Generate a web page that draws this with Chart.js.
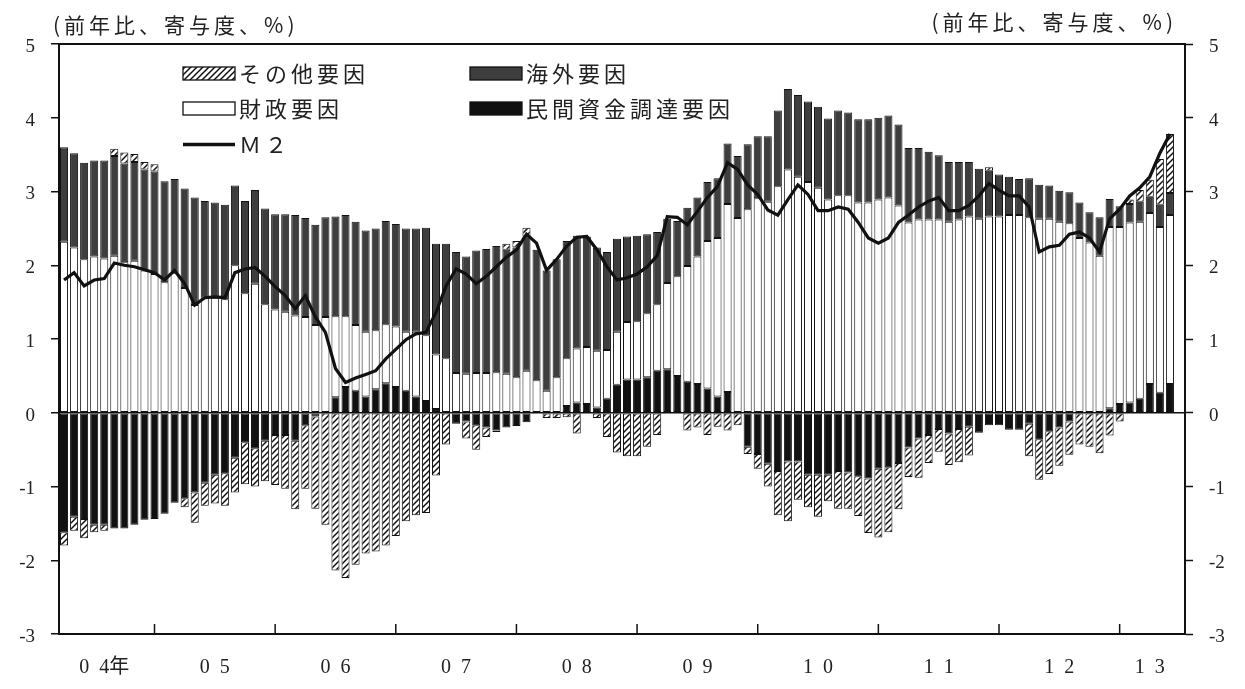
<!DOCTYPE html>
<html><head><meta charset="utf-8">
<script src="https://cdn.jsdelivr.net/npm/chart.js@4/dist/chart.umd.min.js"></script>
<style>html,body{margin:0;padding:0;background:#fff;}canvas{display:block;}</style>
</head><body>
<canvas id="c" width="1245" height="689"></canvas>
<script>
// ---- categories: monthly, Apr 2004 .. Jul 2013 ----
const startYear = 2004, startMonth = 4, endYear = 2013, endMonth = 7;
const categories = [];
for (let y = startYear; y <= endYear; y++) {
  for (let m = 1; m <= 12; m++) {
    if ((y === startYear && m < startMonth) || (y === endYear && m > endMonth)) continue;
    categories.push(y + '-' + String(m).padStart(2, '0'));
  }
}

// ---- series (前年比寄与度, %) ----
const privateFunding = [ // 民間資金調達要因
 -1.62,-1.41,-1.44,-1.52,-1.52,-1.57,-1.57,-1.52,-1.45,-1.44,
 -1.37,-1.22,-1.16,-1.08,-0.95,-0.84,-0.82,-0.61,-0.40,-0.48,
 -0.38,-0.30,-0.30,-0.38,-0.17,-0.05,0,0.21,0.35,0.30,
 0.22,0.32,0.40,0.35,0.30,0.22,0.16,0.05,0,-0.15,
 -0.12,-0.17,-0.20,-0.24,-0.20,-0.18,-0.13,0,0,0,
 0.09,0.14,0.12,0.07,0.19,0.38,0.45,0.45,0.48,0.57,
 0.59,0.50,0.42,0.39,0.33,0.22,0.28,0,-0.46,-0.56,
 -0.69,-0.79,-0.66,-0.66,-0.84,-0.84,-0.84,-0.79,-0.81,-0.86,
 -0.89,-0.76,-0.74,-0.68,-0.47,-0.35,-0.30,-0.22,-0.28,-0.22,
 -0.19,-0.27,-0.17,-0.17,-0.23,-0.23,-0.15,-0.36,-0.25,-0.20,
 -0.12,0,0,0,0.06,0.12,0.14,0.19,0.39,0.27,
 0.39];
const fiscal = [ // 財政要因
 2.32,2.24,2.08,2.12,2.09,2.13,2.04,2.06,1.93,1.88,
 1.77,1.90,1.69,1.46,1.56,1.56,1.54,2.00,1.62,1.75,
 1.47,1.40,1.37,1.32,1.30,1.19,1.30,1.10,0.96,0.89,
 0.88,0.80,0.80,0.82,0.80,0.88,0.89,0.74,0.74,0.54,
 0.53,0.54,0.54,0.55,0.53,0.48,0.57,0.44,0.30,0.48,
 0.65,0.73,0.77,0.77,0.66,0.72,0.78,0.79,0.87,0.90,
 1.17,1.35,1.57,1.73,2.00,2.15,2.55,2.64,2.76,2.91,
 2.86,3.07,3.30,3.20,3.13,3.05,2.89,2.95,2.95,2.85,
 2.85,2.89,2.92,2.81,2.58,2.62,2.62,2.62,2.59,2.62,
 2.66,2.63,2.66,2.66,2.68,2.68,2.65,2.63,2.63,2.59,
 2.57,2.37,2.31,2.13,2.46,2.40,2.44,2.40,2.32,2.25,
 2.29];
const overseas = [ // 海外要因
 1.28,1.28,1.31,1.30,1.33,1.35,1.34,1.34,1.37,1.39,
 1.37,1.27,1.35,1.46,1.31,1.29,1.28,1.08,1.25,1.27,
 1.30,1.29,1.32,1.36,1.34,1.36,1.35,1.35,1.37,1.40,
 1.37,1.38,1.40,1.39,1.40,1.40,1.46,1.50,1.55,1.64,
 1.59,1.66,1.68,1.71,1.68,1.76,1.82,1.77,1.63,1.60,
 1.59,1.53,1.50,1.40,1.33,1.26,1.16,1.16,1.07,0.98,
 0.87,0.75,0.79,0.80,0.80,0.81,0.82,0.84,0.88,0.84,
 0.89,1.03,1.09,1.11,1.09,1.10,1.10,1.15,1.12,1.13,
 1.13,1.11,1.11,1.10,1.01,0.97,0.92,0.87,0.81,0.78,
 0.74,0.68,0.62,0.57,0.52,0.49,0.53,0.46,0.45,0.42,
 0.42,0.48,0.41,0.52,0.38,0.28,0.25,0.27,0.22,0.30,
 0.30];
const otherFactors = [ // その他要因
 -0.18,-0.19,-0.26,-0.10,-0.08,0.10,0.15,0.11,0.10,0.10,
 0,0,-0.12,-0.41,-0.31,-0.39,-0.44,-0.47,-0.57,-0.52,
 -0.55,-0.68,-0.73,-0.93,-0.86,-1.25,-1.52,-2.14,-2.24,-2.06,
 -1.91,-1.88,-1.80,-1.67,-1.47,-1.39,-1.36,-0.85,-0.43,0,
 -0.23,-0.33,-0.13,-0.02,0.08,0.09,0.12,0,-0.07,-0.07,
 -0.06,-0.28,0,-0.07,-0.33,-0.54,-0.59,-0.59,-0.46,-0.30,
 0,0,-0.24,-0.20,-0.30,-0.19,-0.24,-0.17,-0.10,-0.20,
 -0.31,-0.60,-0.81,-0.52,-0.44,-0.57,-0.36,-0.51,-0.49,-0.54,
 -0.74,-0.93,-0.88,-0.63,-0.40,-0.53,-0.38,-0.31,-0.43,-0.45,
 -0.39,0,0.05,0,0,0,-0.44,-0.55,-0.58,-0.52,
 -0.45,-0.43,-0.46,-0.55,-0.31,-0.12,0.06,0.16,0.23,0.62,
 0.80];
const m2 = [ // M2
 1.80,1.90,1.72,1.80,1.82,2.03,2.00,1.98,1.94,1.90,
 1.80,1.93,1.75,1.46,1.56,1.57,1.56,1.90,1.95,1.97,
 1.85,1.71,1.59,1.41,1.59,1.30,1.09,0.60,0.41,0.47,
 0.52,0.57,0.73,0.86,0.99,1.07,1.09,1.36,1.72,1.95,
 1.88,1.75,1.85,1.98,2.11,2.21,2.42,2.30,1.93,2.08,
 2.26,2.38,2.39,2.21,1.98,1.80,1.83,1.88,1.98,2.13,
 2.66,2.65,2.55,2.73,2.92,3.07,3.39,3.30,3.09,2.96,
 2.75,2.68,2.89,3.09,2.96,2.74,2.74,2.79,2.76,2.58,
 2.37,2.30,2.37,2.58,2.68,2.79,2.87,2.92,2.74,2.74,
 2.81,2.94,3.11,3.02,2.94,2.94,2.79,2.18,2.25,2.27,
 2.42,2.45,2.37,2.18,2.63,2.76,2.94,3.05,3.20,3.52,
 3.78];

// ---- tick labels ----
const xTickLabels = ['0\u20024年','0\u20025','0\u20026','0\u20027','0\u20028','0\u20029','1\u20020','1\u20021','1\u20022','1\u20023'];
const xTickMonths = ['2004-08','2005-07','2006-07','2007-07','2008-07','2009-07','2010-07','2011-07','2012-07','2013-04'];
const yTitle = '(前年比、寄与度、%)';

const nz = v => (v === 0 ? null : v);

function makeHatch() {
  const c = document.createElement('canvas');
  c.width = 6; c.height = 6;
  const g = c.getContext('2d');
  g.fillStyle = '#fff'; g.fillRect(0, 0, 6, 6);
  g.strokeStyle = '#111'; g.lineWidth = 1.5;
  g.beginPath();
  g.moveTo(0, 6); g.lineTo(6, 0);
  g.moveTo(-1, 1); g.lineTo(1, -1);
  g.moveTo(5, 7); g.lineTo(7, 5);
  g.stroke();
  return g.createPattern(c, 'repeat');
}
const hatch = makeHatch();

const SERIF = '"Liberation Serif", "Noto Sans CJK JP", serif';
const JP = '"Noto Sans CJK JP", sans-serif';

const barCommon = { borderColor: '#111', borderWidth: 1, borderSkipped: false,
  barPercentage: 0.8, categoryPercentage: 1, yAxisID: 'y', order: 1 };

const datasets = [
  Object.assign({ label: '民間資金調達要因', data: privateFunding.map(nz), backgroundColor: '#111' }, barCommon),
  Object.assign({ label: '財政要因', data: fiscal.map(nz), backgroundColor: '#fff' }, barCommon),
  Object.assign({ label: '海外要因', data: overseas.map(nz), backgroundColor: '#3e3e3e' }, barCommon),
  Object.assign({ label: 'その他要因', data: otherFactors.map(nz), backgroundColor: hatch }, barCommon),
  { type: 'line', label: 'Ｍ２', data: m2, borderColor: '#111', borderWidth: 3.2, pointRadius: 0,
    tension: 0, fill: false, yAxisID: 'y2', order: 0 }
];

// legend arrangement: [dataset index, column, row]
const legendLayout = [[3,0,0],[1,0,1],[4,0,2],[2,1,0],[0,1,1]];

const decor = {
  id: 'decor',
  afterDraw(chart) {
    const { ctx, chartArea: a, scales: { x } } = chart;
    ctx.save();
    ctx.strokeStyle = '#111';
    ctx.lineWidth = 2;
    ctx.beginPath(); ctx.moveTo(a.left - 1, a.top); ctx.lineTo(a.right + 1, a.top); ctx.stroke();
    // inward year ticks at January
    ctx.lineWidth = 1.5;
    categories.forEach((c, i) => {
      if (c.endsWith('-01')) {
        const px = x.getPixelForValue(i);
        ctx.beginPath(); ctx.moveTo(px, a.bottom); ctx.lineTo(px, a.bottom - 10); ctx.stroke();
      }
    });
    // unit titles
    ctx.fillStyle = '#222';
    ctx.textBaseline = 'middle';
    ctx.font = '21px ' + JP;
    try { ctx.letterSpacing = '4px'; } catch (e) {}
    ctx.textAlign = 'left';
    ctx.fillText(yTitle, a.left - 6, 25);
    ctx.textAlign = 'right';
    ctx.fillText(yTitle, a.right - 8, 22);
    // legend
    const colX = [a.left + 124, a.left + 411];
    const rowY = [73.5, 108.5, 144.5];
    ctx.font = '22px ' + JP;
    ctx.textAlign = 'left';
    legendLayout.forEach(([di, col, row]) => {
      const ds = chart.data.datasets[di];
      const sx = colX[col], sy = rowY[row];
      if (ds.type === 'line') {
        ctx.strokeStyle = ds.borderColor; ctx.lineWidth = 3.5;
        ctx.beginPath(); ctx.moveTo(sx, sy); ctx.lineTo(sx + 52, sy); ctx.stroke();
      } else {
        ctx.fillStyle = ds.backgroundColor;
        ctx.fillRect(sx, sy - 6.5, 52, 13);
        ctx.strokeStyle = '#111'; ctx.lineWidth = 1.3;
        ctx.strokeRect(sx, sy - 6.5, 52, 13);
      }
      ctx.fillStyle = '#222';
      ctx.fillText(ds.label, sx + 56, sy);
    });
    ctx.restore();
  }
};

const tickFont = { family: SERIF, size: 19 };

new Chart(document.getElementById('c'), {
  type: 'bar',
  data: { labels: categories, datasets },
  options: {
    responsive: false, animation: false, devicePixelRatio: 1,
    layout: { padding: { top: 44, left: 0, right: 0, bottom: 0 } },
    plugins: { legend: { display: false }, tooltip: { enabled: false } },
    scales: {
      x: {
        type: 'category', stacked: true, offset: true,
        grid: { display: false, drawTicks: false },
        border: { display: true, color: '#111', width: 2 },
        ticks: {
          autoSkip: false, maxRotation: 0, minRotation: 0, padding: 22,
          color: '#222', font: { family: SERIF, size: 20 },
          callback: (v, i) => {
            const k = xTickMonths.indexOf(categories[i]);
            return k >= 0 ? xTickLabels[k] : '';
          }
        },
        afterFit: s => { s.height = 55; }
      },
      y: {
        position: 'left', stacked: true, min: -3, max: 5,
        ticks: { stepSize: 1, padding: 16, labelOffset: 3, color: '#222', font: tickFont },
        grid: {
          drawOnChartArea: true, drawTicks: true, tickLength: 8, tickWidth: 1.5, tickColor: '#111',
          lineWidth: 1.5,
          color: c => (c.tick && c.tick.value === 0 ? '#111' : 'rgba(0,0,0,0)')
        },
        border: { display: true, color: '#111', width: 2 },
        afterFit: s => { s.width = 59; }
      },
      y2: {
        position: 'right', min: -3, max: 5,
        ticks: { stepSize: 1, padding: 16, labelOffset: 3, color: '#222', font: tickFont },
        grid: { drawOnChartArea: false, drawTicks: true, tickLength: 8, tickWidth: 1.5, tickColor: '#111' },
        border: { display: true, color: '#111', width: 2 },
        afterFit: s => { s.width = 60; }
      }
    }
  },
  plugins: [decor]
});
</script>
</body></html>
